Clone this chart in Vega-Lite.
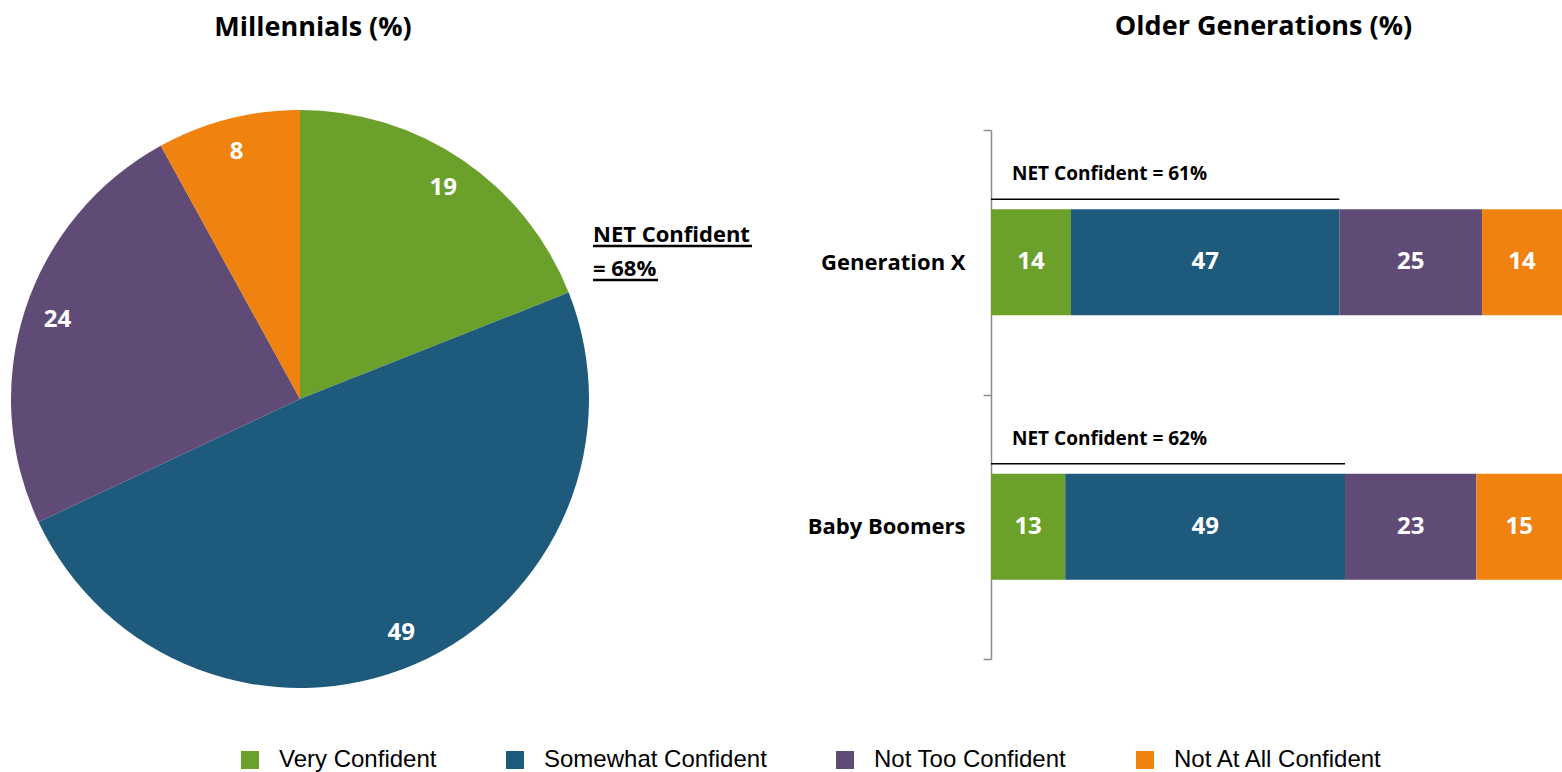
{
  "$schema": "https://vega.github.io/schema/vega-lite/v6.json",
  "padding": {"left": 11, "top": 13, "right": 0, "bottom": 0},
  "background": "white",
  "bounds": "flush",
  "spacing": 402,
  "datasets": {
    "pie": [
      {"category": "Very Confident", "value": 19, "idx": 1},
      {"category": "Somewhat Confident", "value": 49, "idx": 2},
      {"category": "Not Too Confident", "value": 24, "idx": 3},
      {"category": "Not At All Confident", "value": 8, "idx": 4}
    ],
    "bars": [
      {"gen": "Generation X", "category": "Very Confident", "value": 14, "idx": 1},
      {"gen": "Generation X", "category": "Somewhat Confident", "value": 47, "idx": 2},
      {"gen": "Generation X", "category": "Not Too Confident", "value": 25, "idx": 3},
      {"gen": "Generation X", "category": "Not At All Confident", "value": 14, "idx": 4},
      {"gen": "Baby Boomers", "category": "Very Confident", "value": 13, "idx": 1},
      {"gen": "Baby Boomers", "category": "Somewhat Confident", "value": 49, "idx": 2},
      {"gen": "Baby Boomers", "category": "Not Too Confident", "value": 23, "idx": 3},
      {"gen": "Baby Boomers", "category": "Not At All Confident", "value": 15, "idx": 4}
    ],
    "net": [
      {"gen": "Generation X", "start": 0, "net": 61, "label": "NET Confident = 61%"},
      {"gen": "Baby Boomers", "start": 0, "net": 62, "label": "NET Confident = 62%"}
    ],
    "netPie": [
      {"label": "NET Confident\n= 68%", "net": 68}
    ]
  },
  "hconcat": [
    {
      "width": 578,
      "height": 538,
      "title": {"text": "Millennials (%)", "frame": "group", "offset": 68, "dx": 13, "anchor": "middle"},
      "layer": [
        {
          "data": {"name": "pie"},
          "mark": {"type": "arc", "outerRadius": 289},
          "encoding": {
            "theta": {"field": "value", "type": "quantitative", "stack": true},
            "order": {"field": "idx", "type": "quantitative"},
            "color": {"field": "category", "type": "nominal", "title": null,
              "scale": {"domain": ["Very Confident", "Somewhat Confident", "Not Too Confident", "Not At All Confident"],
                        "range": ["#6BA12A", "#1E5A7C", "#604B77", "#F08210"]}}
          }
        },
        {
          "data": {"name": "pie"},
          "mark": {"type": "text", "radius": 255, "font": "Open Sans", "fontWeight": "bold", "fontSize": 24, "color": "white"},
          "encoding": {
            "theta": {"field": "value", "type": "quantitative", "stack": true},
            "order": {"field": "idx", "type": "quantitative"},
            "text": {"field": "value", "type": "quantitative"}
          }
        },
        {
          "data": {"name": "netPie"},
          "mark": {"type": "text", "align": "left", "baseline": "alphabetic", "dx": 293, "dy": -157, "lineBreak": "\n", "lineHeight": 34, "font": "Open Sans", "fontWeight": "bold", "fontSize": 22, "color": "black"},
          "encoding": {"text": {"field": "label", "type": "nominal"}}
        },
        {
          "data": {"name": "netPie"},
          "mark": {"type": "rule", "strokeWidth": 2.5, "color": "black"},
          "encoding": {"x": {"value": 582}, "x2": {"value": 741}, "y": {"value": 116}}
        },
        {
          "data": {"name": "netPie"},
          "mark": {"type": "rule", "strokeWidth": 2.5, "color": "black"},
          "encoding": {"x": {"value": 582}, "x2": {"value": 647}, "y": {"value": 150}}
        }
      ]
    },
    {
      "width": 571,
      "height": 529,
      "title": {"text": "Older Generations (%)", "frame": "group", "offset": 78, "dx": -13, "anchor": "middle"},
      "layer": [
        {
          "data": {"name": "bars"},
          "mark": {"type": "bar", "height": {"band": 0.4}},
          "encoding": {
            "y": {"field": "gen", "type": "nominal", "sort": ["Generation X", "Baby Boomers"], "title": null,
                  "scale": {"paddingInner": 0, "paddingOuter": 0},
                  "axis": {"tickBand": "extent", "domainColor": "#8c8c8c", "domainWidth": 1.5, "tickColor": "#8c8c8c", "tickWidth": 1.5, "tickSize": 8,
                           "labelFont": "Open Sans", "labelFontWeight": "bold", "labelFontSize": 22, "labelColor": "black", "labelPadding": 18}},
            "x": {"field": "value", "type": "quantitative", "stack": "zero", "axis": null, "scale": {"domain": [0, 100], "nice": false}},
            "order": {"field": "idx", "type": "quantitative"},
            "color": {"field": "category", "type": "nominal", "title": null,
              "scale": {"domain": ["Very Confident", "Somewhat Confident", "Not Too Confident", "Not At All Confident"],
                        "range": ["#6BA12A", "#1E5A7C", "#604B77", "#F08210"]}}
          }
        },
        {
          "data": {"name": "bars"},
          "mark": {"type": "text", "font": "Open Sans", "fontWeight": "bold", "fontSize": 24, "color": "white"},
          "encoding": {
            "y": {"field": "gen", "type": "nominal", "sort": ["Generation X", "Baby Boomers"]},
            "x": {"field": "value", "type": "quantitative", "stack": "zero", "bandPosition": 0.5},
            "order": {"field": "idx", "type": "quantitative"},
            "text": {"field": "value", "type": "quantitative"}
          }
        },
        {
          "data": {"name": "net"},
          "mark": {"type": "rule", "yOffset": -63, "strokeWidth": 1.5, "color": "black"},
          "encoding": {
            "y": {"field": "gen", "type": "nominal", "sort": ["Generation X", "Baby Boomers"]},
            "x": {"field": "start", "type": "quantitative"},
            "x2": {"field": "net"}
          }
        },
        {
          "data": {"name": "net"},
          "mark": {"type": "text", "align": "left", "dx": 21, "yOffset": -88, "font": "Open Sans", "fontWeight": "bold", "fontSize": 19, "color": "black"},
          "encoding": {
            "y": {"field": "gen", "type": "nominal", "sort": ["Generation X", "Baby Boomers"]},
            "x": {"field": "start", "type": "quantitative"},
            "text": {"field": "label", "type": "nominal"}
          }
        }
      ]
    }
  ],
  "config": {
    "view": {"stroke": null},
    "title": {"font": "Open Sans", "fontWeight": "bold", "fontSize": 27, "color": "black"},
    "legend": {
      "orient": "none", "legendX": 227, "legendY": 618, "direction": "horizontal",
      "symbolType": "square", "symbolSize": 324, "symbolStrokeWidth": 0, "symbolOpacity": 1,
      "labelFont": "Liberation Sans", "labelFontSize": 24, "labelColor": "black", "labelLimit": 400,
      "labelOffset": 17, "columnPadding": 66
    }
  }
}
